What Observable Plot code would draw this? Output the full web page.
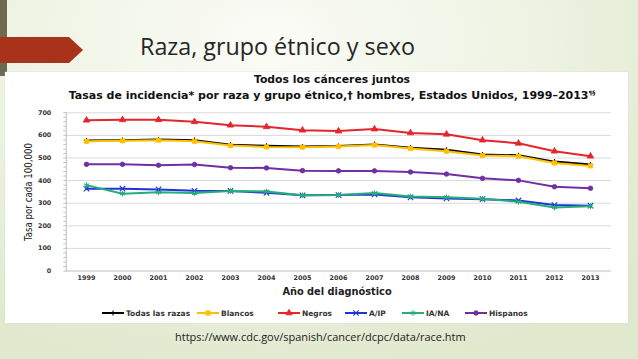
<!DOCTYPE html>
<html><head><meta charset="utf-8">
<script src="https://cdn.jsdelivr.net/npm/d3@7"></script>
<script src="https://cdn.jsdelivr.net/npm/@observablehq/plot@0.6"></script>
<style>
body{margin:0;}
#slide{position:relative;width:638px;height:359px;overflow:hidden;
 background:radial-gradient(ellipse 75% 95% at 42% 12%, #fbfcf6 0%, #eef3e3 55%, #e0e8cd 100%);
 font-family:"Open Sans",sans-serif;}
#bar{position:absolute;left:0;top:0;width:7px;height:76px;background:#6e6a52;}
#arrow{position:absolute;left:0;top:37px;width:83px;height:26px;background:#a9321b;
 clip-path:polygon(0 0,69px 0,100% 50%,69px 100%,0 100%);}
#title{position:absolute;left:140px;top:31px;line-height:30px;font-size:23.3px;color:#262626;white-space:nowrap;}
#panel{position:absolute;left:5px;top:72px;width:623px;height:251px;background:#fff;box-shadow:0 0 1px #c8cdbd;}
.ct{position:absolute;left:0;width:664px;text-align:center;font-family:"DejaVu Sans",sans-serif;font-weight:bold;color:#111;white-space:nowrap;}
#ct1{top:73px;font-size:10.8px;line-height:14px;}
#ct2{top:89px;font-size:11px;line-height:14px;}
#ct2 sup{font-size:6px;vertical-align:4px;line-height:0;}
#ylab{position:absolute;left:28px;top:192px;transform:translate(-50%,-50%) rotate(-90deg);
 font-family:"Liberation Sans Narrow","DejaVu Sans Condensed",sans-serif;font-size:9.6px;color:#222;white-space:nowrap;}
#chart{position:absolute;left:0;top:100px;}
#xlab{position:absolute;left:337px;top:291px;transform:translate(-50%,-50%);font-family:"DejaVu Sans",sans-serif;font-weight:bold;font-size:9.8px;color:#222;white-space:nowrap;}
.lg{position:absolute;top:308px;height:10px;display:flex;align-items:center;font-family:"DejaVu Sans",sans-serif;font-weight:bold;font-size:7.5px;color:#333;white-space:nowrap;}
.lg svg{margin-right:2px;}
#url{position:absolute;left:175px;top:329px;line-height:16px;font-size:11px;color:#222;white-space:nowrap;}
</style></head>
<body>
<div id="slide">
 <div id="bar"></div>
 <div id="arrow"></div>
 <div id="title">Raza, grupo étnico y sexo</div>
 <div id="panel"></div>
 <div class="ct" id="ct1">Todos los cánceres juntos</div>
 <div class="ct" id="ct2">Tasas de incidencia* por raza y grupo étnico,† hombres, Estados Unidos, 1999–2013<sup>¶§</sup></div>
 <div id="ylab">Tasa por cada 100,000</div>
 <div id="chart"></div>
 <div id="xlab">Año del diagnóstico</div>
 <div id="legend"></div>
 <div id="url">https://www.cdc.gov/spanish/cancer/dcpc/data/race.htm</div>
</div>
<script>
const years = ["1999","2000","2001","2002","2003","2004","2005","2006","2007","2008","2009","2010","2011","2012","2013"];
const todas    = [577,579,582,579,559,554,551,553,560,545,536,515,512,484,471];
const blancos  = [574,576,579,574,555,549,548,551,557,542,530,511,508,478,465];
const negros   = [667,669,669,660,645,638,623,619,628,611,605,579,565,530,508];
const aip      = [364,364,361,355,354,346,335,336,339,326,321,318,312,292,289];
const iana     = [380,342,348,345,354,352,335,336,345,330,326,320,306,281,287];
const hispanos = [472,472,468,471,457,456,444,443,443,438,429,410,401,373,366];
const yTicks = [0,100,200,300,400,500,600,700];

const seriesNames = ["Todas las razas","Blancos","Negros","A/IP","IA/NA","Hispanos"];
const seriesValues = [todas,blancos,negros,aip,iana,hispanos];
const seriesColors = ["#000000","#ffc000","#e3262b","#1f35d6","#27ad78","#7030a0"];
const seriesSymbols = ["plus","square","triangle","times","asterisk","circle"];
const seriesRadius = [1.8,2.4,2.4,2.6,2.6,2.3];
const strokeSymbols = new Set(["plus","times","asterisk"]);

const rows = seriesNames.flatMap((s,i)=>years.map((y,j)=>({serie:s, year:y, value:seriesValues[i][j]})));

const font = {fontFamily:"DejaVu Sans", fontWeight:"bold", fontSize:6.4, fill:"#333"};

const seriesMarks = seriesNames.flatMap((s,i)=>{
  const d = rows.filter(r=>r.serie===s);
  const sym = seriesSymbols[i];
  const isStroke = strokeSymbols.has(sym);
  return [
    Plot.line(d,{x:"year",y:"value",stroke:seriesColors[i],strokeWidth:2}),
    Plot.dot(d,{x:"year",y:"value",symbol:()=>sym,r:seriesRadius[i],
      fill:isStroke?"none":seriesColors[i],stroke:seriesColors[i],strokeWidth:isStroke?1.1:0.8})
  ];
});

const chart = Plot.plot({
  width:638, height:185,
  marginLeft:65.8, marginRight:27, marginTop:12.3, marginBottom:14.5,
  style:{background:"transparent", overflow:"visible"},
  x:{type:"point", domain:years, padding:0.5},
  y:{domain:[0,700]},
  symbol:{type:"identity"},
  marks:[
    Plot.gridY(yTicks.slice(1),{stroke:"#d9d9d9",strokeOpacity:1}),
    Plot.ruleY([0],{stroke:"#bfbfbf"}),
    Plot.frame({anchor:"left",stroke:"#bfbfbf"}),
    Plot.axisY(d3.range(0,701,20),{tickSize:2.5,stroke:"#bfbfbf",tickFormat:()=>"",label:null}),
    Plot.axisY(yTicks,{tickSize:0,tickPadding:15,label:null,...font}),
    Plot.axisX({tickSize:0,tickPadding:4,label:null,...font}),
    ...seriesMarks
  ]
});
document.getElementById("chart").appendChild(chart);

// legend
const legendX = [102,197,278,345,402,465];
const slide = document.getElementById("slide");
const symMap = {plus:d3.symbolPlus,square:d3.symbolSquare,triangle:d3.symbolTriangle,times:d3.symbolTimes,asterisk:d3.symbolAsterisk,circle:d3.symbolCircle};
seriesNames.forEach((s,i)=>{
  const item = document.createElement("div");
  item.className = "lg";
  item.style.left = legendX[i]+"px";
  const svg = d3.create("svg").attr("width",22).attr("height",10);
  svg.append("line").attr("x1",0).attr("x2",22).attr("y1",5).attr("y2",5)
     .attr("stroke",seriesColors[i]).attr("stroke-width",2);
  const isStroke = strokeSymbols.has(seriesSymbols[i]);
  svg.append("path").attr("transform","translate(11,5)")
     .attr("d",d3.symbol(symMap[seriesSymbols[i]], Math.PI*seriesRadius[i]**2)())
     .attr("fill",isStroke?"none":seriesColors[i]).attr("stroke",seriesColors[i]).attr("stroke-width",isStroke?1.1:0.8);
  item.appendChild(svg.node());
  const t = document.createElement("span");
  t.textContent = s;
  item.appendChild(t);
  slide.appendChild(item);
});
</script>
</body></html>
